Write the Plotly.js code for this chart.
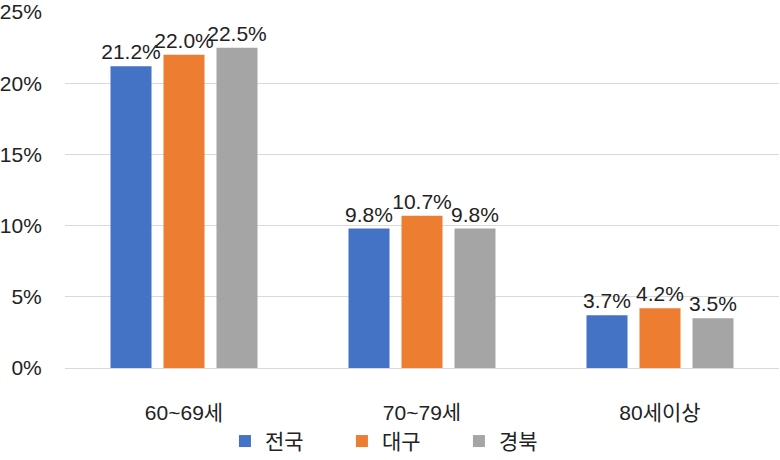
<!DOCTYPE html>
<html><head><meta charset="utf-8">
<script src="https://cdn.plot.ly/plotly-3.0.1.min.js"></script>
<style>html,body{margin:0;padding:0;background:#fff}</style>
</head><body><div id="chart" style="width:780px;height:460px"></div>
<script>
const categories = ["60~69세", "70~79세", "80세이상"];
const seriesNames = ["전국", "대구", "경북"];
const national = [21.2, 9.8, 3.7];
const daegu = [22.0, 10.7, 4.2];
const gyeongbuk = [22.5, 9.8, 3.5];
const yTickVals = [0, 5, 10, 15, 20, 25];
const yTickText = ["0%", "5%", "10%", "15%", "20%", "25%"];
const colors = ["#4472C4", "#ED7D31", "#A5A5A5"];
const FONT = '"Liberation Sans", Arial, "Noto Sans CJK KR", sans-serif';

const data = [national, daegu, gyeongbuk].map((vals, i) => ({
  type: "bar",
  name: seriesNames[i],
  x: categories,
  y: vals,
  marker: {color: colors[i]},
  text: vals.map(v => v.toFixed(1) + "%"),
  textposition: "outside",
  constraintext: "none",
  cliponaxis: false,
  textfont: {family: FONT, size: 21, color: "#222"},
  hoverinfo: "none"
}));

const layout = {
  width: 780, height: 460,
  margin: {l: 65, r: 1, t: 12, b: 92, autoexpand: false},
  paper_bgcolor: "#fff", plot_bgcolor: "#fff",
  barmode: "group",
  bargap: 0.332,
  bargroupgap: 0.226,
  font: {family: FONT, size: 21, color: "#222"},
  xaxis: {
    type: "category",
    showgrid: false, zeroline: false, showline: false,
    ticks: "outside", ticklen: 26, tickcolor: "rgba(0,0,0,0)",
    tickfont: {family: FONT, size: 21, color: "#222"}
  },
  yaxis: {
    range: [0, 25.01],
    tickvals: yTickVals, ticktext: yTickText,
    showgrid: true, gridcolor: "#d9d9d9", gridwidth: 1,
    zeroline: true, zerolinecolor: "#d9d9d9", zerolinewidth: 1,
    showline: false,
    ticks: "outside", ticklen: 18, tickcolor: "rgba(0,0,0,0)",
    tickfont: {family: FONT, size: 21, color: "#222"}
  },
  legend: {
    orientation: "h", x: 0.224, xanchor: "left",
    yref: "container", y: 0.085, yanchor: "top",
    font: {family: FONT, size: 21, color: "#222"},
    itemwidth: 30, entrywidth: 72, tracegroupgap: 0
  },
  showlegend: true
};

Plotly.newPlot("chart", data, layout, {displayModeBar: false, staticPlot: true});
</script></body></html>
